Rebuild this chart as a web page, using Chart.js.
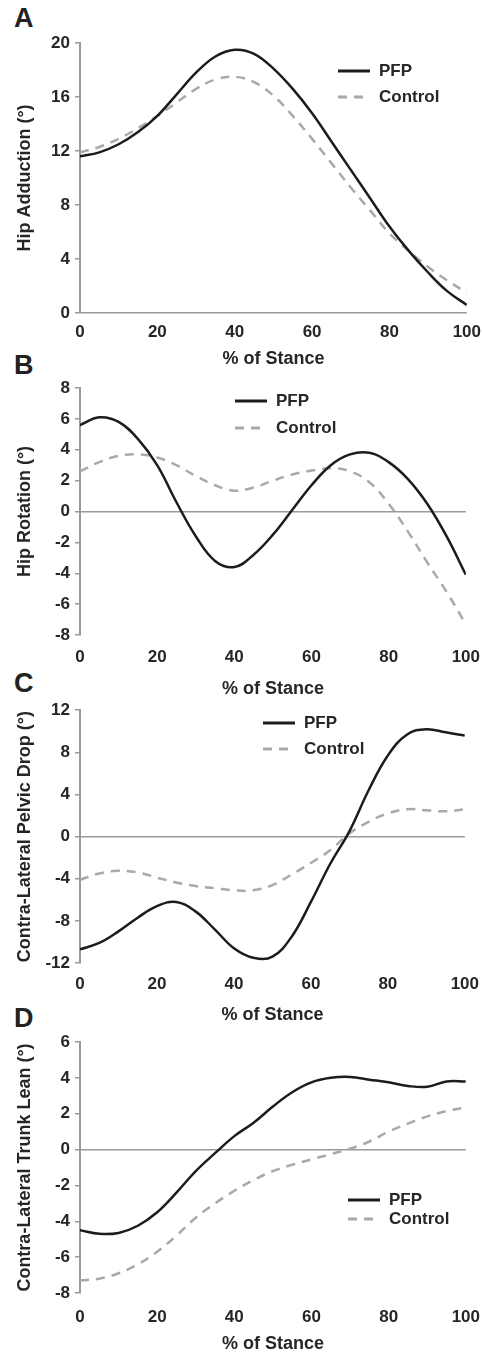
<!DOCTYPE html>
<html>
<head>
<meta charset="utf-8">
<script src="https://cdn.jsdelivr.net/npm/chart.js@4.4.1/dist/chart.umd.min.js"></script>
<style>
  body { margin: 0; background: #fff; width: 482px; height: 1355px; position: relative; overflow: hidden;
         font-family: 'Liberation Sans', Arial, sans-serif; }
  .panel { position: absolute; left: 0; width: 482px; }
  .letter { position: absolute; left: 14px; font-weight: bold; font-size: 27px; line-height: 1; color: #222; }
</style>
</head>
<body>
<div class="letter" style="top:5px">A</div>
<div class="letter" style="top:352px">B</div>
<div class="letter" style="top:670px">C</div>
<div class="letter" style="top:1005px">D</div>

<div class="panel" style="top:0px;height:370px"><canvas id="chartA"></canvas></div>
<div class="panel" style="top:370px;height:330px;width:484px"><canvas id="chartB"></canvas></div>
<div class="panel" style="top:695px;height:331px"><canvas id="chartC"></canvas></div>
<div class="panel" style="top:1026px;height:329px;width:486px"><canvas id="chartD"></canvas></div>

<script>
// % of stance, sampled every 5%
const stance = [0, 5, 10, 15, 20, 25, 30, 35, 40, 45, 50, 55, 60, 65, 70, 75, 80, 85, 90, 95, 100];

// A - hip adduction
const hipAddPFP  = [11.6, 11.9, 12.5, 13.4, 14.6, 16.2, 17.8, 19.0, 19.5, 19.2, 18.1, 16.6, 14.8, 12.7, 10.6, 8.5, 6.4, 4.6, 3.0, 1.6, 0.6];
const hipAddCtrl = [11.9, 12.3, 12.9, 13.7, 14.6, 15.6, 16.6, 17.3, 17.5, 17.1, 16.1, 14.6, 12.9, 11.1, 9.3, 7.6, 5.9, 4.6, 3.4, 2.4, 1.5];

// B - hip rotation
const hipRotPFP  = [5.6, 6.1, 5.8, 4.7, 3.0, 0.6, -1.6, -3.2, -3.6, -2.8, -1.5, 0.1, 1.7, 3.0, 3.7, 3.8, 3.2, 2.1, 0.5, -1.6, -4.1];
const hipRotCtrl = [2.6, 3.2, 3.6, 3.7, 3.5, 3.0, 2.3, 1.7, 1.35, 1.55, 2.0, 2.4, 2.65, 2.8, 2.6, 1.9, 0.5, -1.3, -3.3, -5.2, -7.3];

// C - contra-lateral pelvic drop
const pelvicPFP  = [-10.7, -10.1, -9.0, -7.7, -6.6, -6.2, -7.1, -8.8, -10.6, -11.5, -11.4, -9.5, -6.2, -2.6, 0.5, 4.4, 7.7, 9.7, 10.2, 9.9, 9.6];
const pelvicCtrl = [-4.1, -3.5, -3.25, -3.4, -3.9, -4.35, -4.7, -4.9, -5.1, -5.1, -4.6, -3.6, -2.5, -1.3, 0.3, 1.4, 2.2, 2.6, 2.5, 2.4, 2.6];

// D - contra-lateral trunk lean
const trunkPFP  = [-4.5, -4.7, -4.65, -4.25, -3.5, -2.4, -1.2, -0.2, 0.75, 1.5, 2.4, 3.2, 3.75, 4.0, 4.05, 3.9, 3.75, 3.55, 3.5, 3.8, 3.8];
const trunkCtrl = [-7.3, -7.2, -6.9, -6.4, -5.7, -4.8, -3.8, -3.0, -2.3, -1.7, -1.2, -0.85, -0.55, -0.25, 0.05, 0.45, 1.0, 1.45, 1.85, 2.15, 2.35];

const seriesNames = ['PFP', 'Control'];
const xTitle = '% of Stance';

const textColor = '#262626';
const axisColor = '#9a9a9a';
const tickFont = { family: 'Liberation Sans', size: 17, weight: 'bold' };
const titleFont = { family: 'Liberation Sans', size: 18, weight: 'bold' };

// legend drawn inside the plot area
const insideLegend = {
    id: 'insideLegend',
    afterDatasetsDraw(chart, args, opts) {
        const ctx = chart.ctx;
        ctx.save();
        ctx.font = 'bold 17px "Liberation Sans"';
        ctx.textBaseline = 'middle';
        chart.data.datasets.forEach((ds, i) => {
            const y = opts.y + i * opts.gap;
            ctx.beginPath();
            ctx.setLineDash(ds.borderDash || []);
            ctx.strokeStyle = ds.borderColor;
            ctx.lineWidth = 3;
            ctx.moveTo(opts.x, y);
            ctx.lineTo(opts.x + 32, y);
            ctx.stroke();
            ctx.setLineDash([]);
            ctx.fillStyle = textColor;
            ctx.fillText(ds.label, opts.x + 41, y);
        });
        ctx.restore();
    }
};

function points(values) {
    return stance.map((x, i) => ({ x: x, y: values[i] }));
}

function makePanel(canvasId, pfp, ctrl, yMin, yMax, yStep, yTitle, L) {
    return new Chart(document.getElementById(canvasId), {
        type: 'line',
        data: {
            datasets: [{
                label: seriesNames[0],
                data: points(pfp),
                borderColor: '#1c1c1c',
                borderWidth: 2.5,
                pointRadius: 0,
                tension: 0.4
            }, {
                label: seriesNames[1],
                data: points(ctrl),
                borderColor: '#a9a9a9',
                borderWidth: 2.5,
                borderDash: [9, 7],
                pointRadius: 0,
                tension: 0.4
            }]
        },
        plugins: [insideLegend],
        options: {
            responsive: true,
            maintainAspectRatio: false,
            animation: false,
            layout: { padding: { top: L.padTop, right: L.padRight, bottom: 0, left: 0 } },
            plugins: {
                legend: { display: false },
                tooltip: { enabled: false },
                insideLegend: { x: L.legX, y: L.legY, gap: L.legGap }
            },
            scales: {
                x: {
                    type: 'linear',
                    min: 0,
                    max: 100,
                    ticks: { stepSize: 20, padding: L.labelPad, color: textColor, font: tickFont },
                    grid: { display: false },
                    border: { display: false },
                    title: { display: true, text: xTitle, color: textColor, font: titleFont,
                             padding: { top: L.titlePad, bottom: 0 } },
                    afterFit: s => { s.height = L.xH; }
                },
                y: {
                    min: yMin,
                    max: yMax,
                    ticks: { stepSize: yStep, padding: 5, color: textColor, font: tickFont },
                    grid: {
                        color: c => (c.tick && c.tick.value === 0) ? axisColor : 'rgba(0,0,0,0)',
                        lineWidth: 1.5,
                        tickColor: axisColor,
                        tickLength: 5
                    },
                    border: { display: true, color: axisColor, width: 2 },
                    title: { display: true, text: yTitle, color: textColor, font: titleFont,
                             padding: { top: 14, bottom: 0 } },
                    afterFit: s => { s.width = 80; }
                }
            }
        }
    });
}

makePanel('chartA', hipAddPFP, hipAddCtrl, 0, 20, 4, 'Hip Adduction (°)',
    { padTop: 43, padRight: 14, xH: 57, labelPad: 1, titlePad: 8, legX: 338, legY: 71, legGap: 26 });
makePanel('chartB', hipRotPFP, hipRotCtrl, -8, 8, 2, 'Hip Rotation (°)',
    { padTop: 18, padRight: 8, xH: 65, labelPad: 4, titlePad: 8, legX: 235, legY: 31, legGap: 27 });
makePanel('chartC', pelvicPFP, pelvicCtrl, -12, 12, 4, 'Contra-Lateral Pelvic Drop (°)',
    { padTop: 15, padRight: 10, xH: 63, labelPad: 3, titlePad: 8, legX: 263, legY: 28, legGap: 26 });
makePanel('chartD', trunkPFP, trunkCtrl, -8, 6, 2, 'Contra-Lateral Trunk Lean (°)',
    { padTop: 16, padRight: 4, xH: 62, labelPad: 6, titlePad: 5, legX: 348, legY: 174, legGap: 19 });
</script>
</body>
</html>
